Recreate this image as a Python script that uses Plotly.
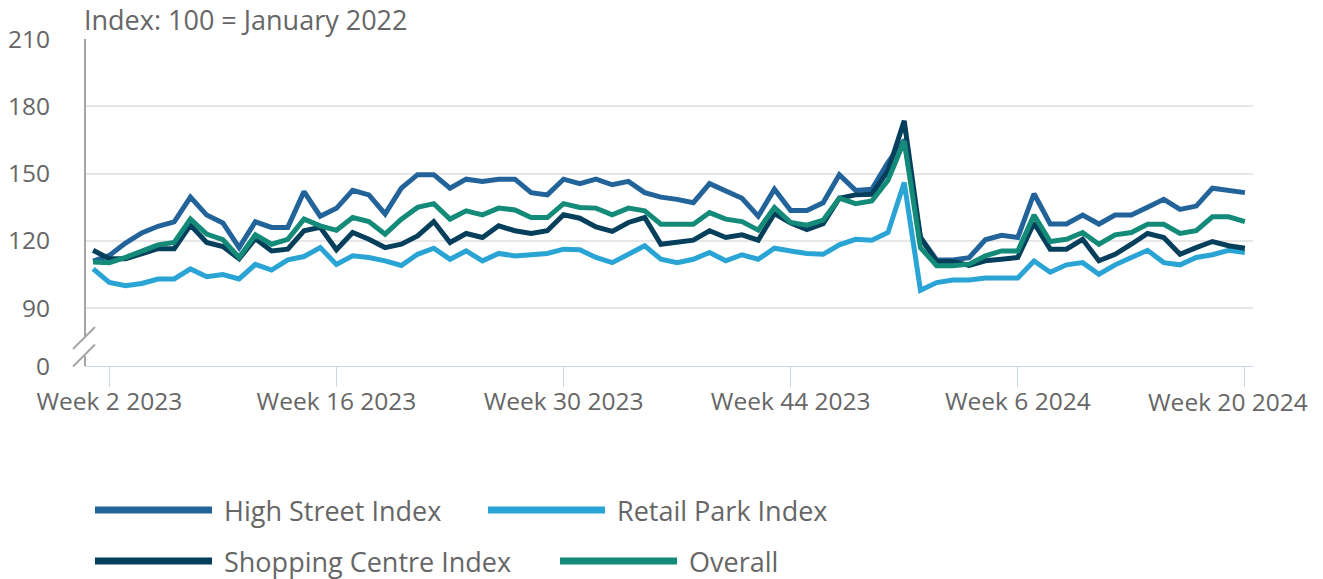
import plotly.graph_objects as go

# ---- data ----
weeks_2023 = [f"Week {w} 2023" for w in range(1, 53)]
weeks_2024 = [f"Week {w} 2024" for w in range(1, 21)]
categories = weeks_2023 + weeks_2024

tick_labels = ["Week 2 2023", "Week 16 2023", "Week 30 2023",
               "Week 44 2023", "Week 6 2024", "Week 20 2024"]

high_street = [111, 113.5, 119, 123.5, 126.5, 128.5, 139.5, 131.5, 128, 117,
               128.5, 126, 126, 142, 131, 134.5, 142.5, 140.5, 132, 143.5,
               149.5, 149.5, 143.5, 147.5, 146.5, 147.5, 147.5, 141.5, 140.5, 147.5,
               145.5, 147.5, 145, 146.5, 141.5, 139.5, 138.5, 137, 145.5, 142.5,
               139, 131, 143, 133.5, 133.5, 137, 149.5, 142.5, 143, 155,
               165, 121.5, 111.5, 111.5, 112.5, 120.5, 122.5, 121.5, 141, 127.5,
               127.5, 131.5, 127.5, 131.5, 131.5, 135, 138.5, 134, 135.5, 143.5,
               142.5, 141.5]

retail_park = [107.5, 101.5, 100, 101, 103, 103, 107.5, 104, 105, 103,
               109.5, 107, 111.5, 113, 117, 109.5, 113.3, 112.6, 111.1, 109,
               114, 116.7, 111.8, 115.5, 111.1, 114.4, 113.3, 114, 114.4, 116.3,
               116, 112.6, 110.3, 114, 117.8, 111.8, 110.3, 111.8, 114.8, 111.1,
               113.8, 111.8, 116.7, 115.5, 114.4, 114, 118.2, 120.7, 120.3, 123.7,
               146, 98, 101.4, 102.5, 102.5, 103.4, 103.4, 103.4, 111, 106,
               109.3, 110.3, 105.1, 109.3, 112.6, 115.8, 110.3, 109.3, 112.6, 113.8,
               115.8, 114.8]

shopping_centre = [115.8, 112, 112, 114.4, 116.5, 116.5, 127, 119.3, 117.5, 112,
                   121, 115.5, 116.3, 124.5, 126, 116, 123.7, 120.7, 117, 118.5,
                   122.2, 128.6, 119.3, 123.3, 121.5, 126.7, 124.5, 123.3, 124.5, 131.6,
                   130.1, 126.2, 124.2, 128.2, 130.4, 118.5, 119.3, 120.3, 124.5, 121.5,
                   122.7, 120.3, 132.2, 128, 125, 127.7, 139, 140.5, 140.8, 151.2,
                   173.5, 121.5, 110.8, 110.8, 109, 111.1, 111.8, 112.6, 128, 116.3,
                   116.3, 120.7, 111.1, 114, 118.5, 123.3, 121.5, 114, 117, 119.7,
                   117.8, 116.7]

overall = [110.6, 110.3, 112.6, 115.5, 118.2, 119.3, 129.7, 123, 120.5, 112.6,
           122.7, 118.5, 120.7, 129.7, 126.7, 124.7, 130.4, 128.6, 123, 129.7,
           134.9, 136.6, 129.7, 133.4, 131.6, 134.6, 133.8, 130.4, 130.4, 136.6,
           134.9, 134.6, 131.6, 134.6, 133.4, 127.4, 127.4, 127.4, 132.6, 129.7,
           128.6, 124.8, 134.9, 128.2, 127, 129.2, 139, 136.6, 137.8, 147,
           164.6, 117, 108.9, 108.9, 109.6, 113.3, 115.5, 115.5, 131.5, 119.7,
           120.7, 123.7, 118.5, 122.7, 123.7, 127.4, 127.4, 123.3, 124.5, 130.7,
           130.7, 128.6]

series_names = ["High Street Index", "Retail Park Index", "Shopping Centre Index", "Overall"]
series_values = [high_street, retail_park, shopping_centre, overall]
series_colors = ["#22639a", "#29a4d4", "#053f5c", "#148a78"]

y_ticks = [90, 120, 150, 180, 210]
y_bottom = 64.2  # value shown as "0" below the axis break

# ---- layout geometry (pixels) ----
W, H = 1323, 579
L, R, T, B = 85, 70, 39, 213
PW, PH = W - L - R, H - T - B


def px(xp):
    return (xp - L) / PW


def py(yp):
    return (H - B - yp) / PH


TEXT = "#666666"
FONT = "Open Sans"

fig = go.Figure()
for name, vals, col in zip(series_names, series_values, series_colors):
    assert len(vals) == len(categories)
    fig.add_trace(go.Scatter(
        x=categories, y=vals, name=name, mode="lines",
        line=dict(color=col, width=5), showlegend=False,
        hovertemplate="%{x}<br>" + name + ": %{y}<extra></extra>",
    ))

fig.update_layout(
    width=W, height=H, autosize=False,
    margin=dict(l=L, r=R, t=T, b=B, pad=0, autoexpand=False),
    paper_bgcolor="white", plot_bgcolor="white",
    font=dict(family=FONT, color=TEXT, size=24),
)

# last tick label is pulled inside the chart edge (drawn as an annotation below)
tick_text = tick_labels[:-1] + [""]

fig.update_xaxes(
    type="category", categoryorder="array", categoryarray=categories,
    range=[-0.5, len(categories) - 0.5], automargin=False,
    tickmode="array", tickvals=tick_labels, ticktext=tick_text,
    showgrid=False, zeroline=False,
    showline=True, linecolor="#ccd6eb", linewidth=1,
    ticks="outside", ticklen=20, tickcolor="#ccd6eb", tickwidth=1,
    ticklabelstandoff=-6,
    tickfont=dict(family=FONT, size=24.5, color=TEXT),
)

fig.update_yaxes(
    range=[y_bottom, 210], automargin=False,
    tickmode="array", tickvals=[y_bottom] + y_ticks,
    ticktext=["0"] + [str(v) for v in y_ticks],
    showgrid=True, gridcolor="#e6e6e6", gridwidth=2,
    zeroline=False, showline=False,
    ticks="", ticklabelstandoff=34,
    tickfont=dict(family=FONT, size=24.5, color=TEXT),
)

shapes = []
# y axis line with break marks
axis_col = "#a6a6a6"
shapes.append(dict(type="line", xref="paper", yref="paper",
                   x0=0, x1=0, y0=1, y1=py(337), line=dict(color=axis_col, width=2)))
shapes.append(dict(type="line", xref="paper", yref="paper",
                   x0=0, x1=0, y0=py(356), y1=py(366), line=dict(color=axis_col, width=2)))
shapes.append(dict(type="line", xref="paper", yref="paper",
                   x0=px(73), x1=px(95), y0=py(349), y1=py(327), line=dict(color=axis_col, width=2)))
shapes.append(dict(type="line", xref="paper", yref="paper",
                   x0=px(73), x1=px(95), y0=py(366.5), y1=py(344.5), line=dict(color=axis_col, width=2)))

annotations = [dict(text="Index: 100 = January 2022", xref="paper", yref="paper",
                    x=px(82), y=py(20), xanchor="left", yanchor="middle",
                    showarrow=False, font=dict(family=FONT, size=27, color=TEXT))]

annotations.append(dict(text=tick_labels[-1], xref="paper", yref="paper",
                        x=px(1310), y=py(401.5), xanchor="right", yanchor="middle",
                        showarrow=False, font=dict(family=FONT, size=24.5, color=TEXT)))

# legend (drawn manually to mimic the long line symbols)
legend_pos = [(95, 510), (488, 510), (95, 561), (560, 561)]
for name, col, (lx, ly) in zip(series_names, series_colors, legend_pos):
    shapes.append(dict(type="line", xref="paper", yref="paper",
                       x0=px(lx), x1=px(lx + 117), y0=py(ly), y1=py(ly),
                       line=dict(color=col, width=7)))
    annotations.append(dict(text=name, xref="paper", yref="paper",
                            x=px(lx + 127), y=py(ly), xanchor="left", yanchor="middle",
                            showarrow=False, font=dict(family=FONT, size=27, color=TEXT)))

fig.update_layout(shapes=shapes, annotations=annotations)

fig.write_html("out.html", config={"displayModeBar": False},
               post_script="document.body.style.margin='0';document.body.style.overflow='hidden';")
